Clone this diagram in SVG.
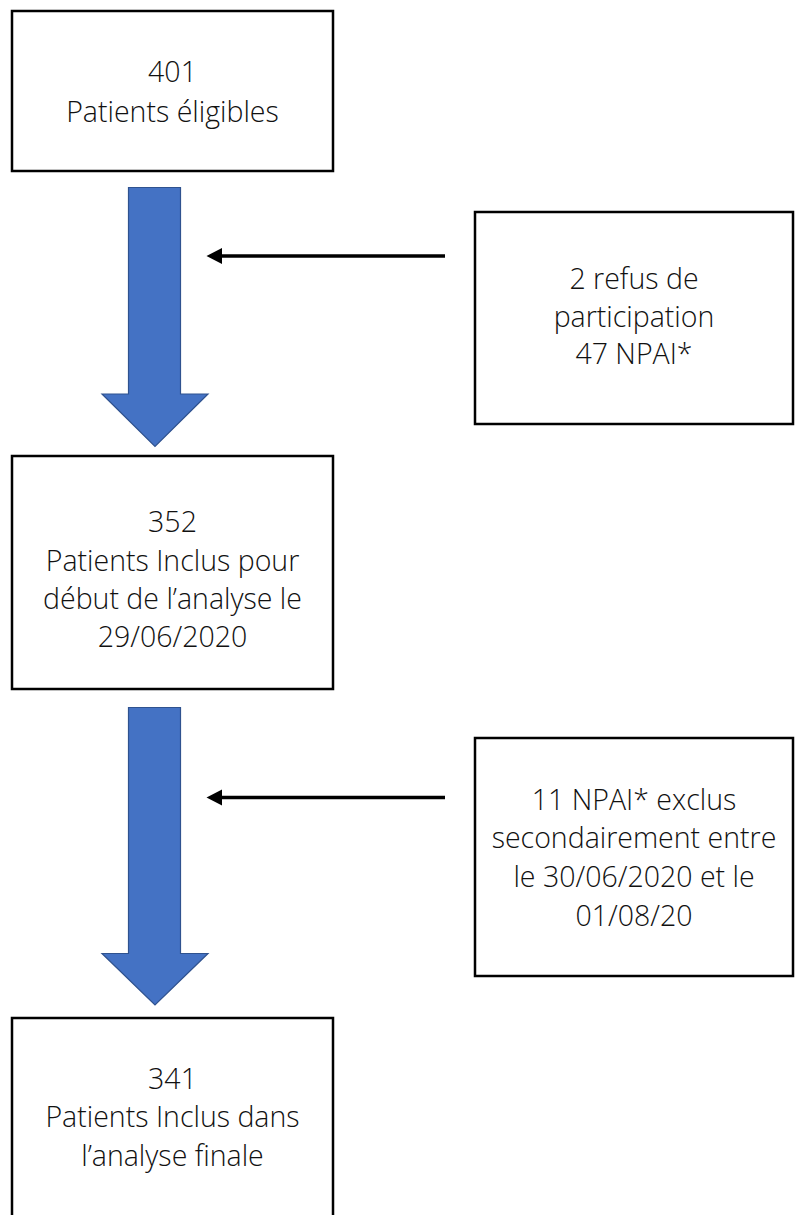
<svg xmlns="http://www.w3.org/2000/svg" width="795" height="1215" viewBox="0 0 795 1215">
<style>
.box{fill:#fff;stroke:#000;stroke-width:2.5}
.t{font-family:"Open Sans",Lato,"Liberation Sans",sans-serif;font-weight:300;font-size:28.5px;fill:#111;text-anchor:middle}
.big{fill:#4472C4;stroke:#2F528F;stroke-width:1.2}
.ln{stroke:#000;stroke-width:3.5;fill:none}
</style>
<rect width="795" height="1215" fill="#fff"/>
<g id="connectors">
<polygon class="big" points="128.5,187.5 180.5,187.5 180.5,394 208,394 155,446.5 102,394 128.5,394"/>
<polygon class="big" points="128.5,707.5 180.5,707.5 180.5,953.5 208,953.5 155,1005 102,953.5 128.5,953.5"/>
<line class="ln" x1="445" y1="256" x2="218" y2="256"/>
<polygon points="206.5,256 222,248 222,264" fill="#000"/>
<line class="ln" x1="445" y1="797.5" x2="218" y2="797.5"/>
<polygon points="206.5,797.5 222,789.5 222,805.5" fill="#000"/>
</g>
<g id="n1">
<rect class="box" x="12" y="11" width="321" height="160"/>
<text class="t" x="172.5" y="82">401</text>
<text class="t" x="172.5" y="122">Patients éligibles</text>
</g>
<g id="n2">
<rect class="box" x="475" y="212" width="318" height="212"/>
<text class="t" x="634" y="289">2 refus de</text>
<text class="t" x="634" y="327">participation</text>
<text class="t" x="634" y="364">47 NPAI*</text>
</g>
<g id="n3">
<rect class="box" x="12" y="456" width="321" height="233"/>
<text class="t" x="172.5" y="532">352</text>
<text class="t" x="172.5" y="571">Patients Inclus pour</text>
<text class="t" x="172.5" y="609">début de l’analyse le</text>
<text class="t" x="172.5" y="647">29/06/2020</text>
</g>
<g id="n4">
<rect class="box" x="475" y="738" width="318" height="238"/>
<text class="t" x="634" y="810">11 NPAI* exclus</text>
<text class="t" x="634" y="848">secondairement entre</text>
<text class="t" x="634" y="887">le 30/06/2020 et le</text>
<text class="t" x="634" y="926">01/08/20</text>
</g>
<g id="n5">
<rect class="box" x="12" y="1018" width="321" height="210"/>
<text class="t" x="172.5" y="1089">341</text>
<text class="t" x="172.5" y="1127">Patients Inclus dans</text>
<text class="t" x="172.5" y="1166">l’analyse finale</text>
</g>
</svg>
